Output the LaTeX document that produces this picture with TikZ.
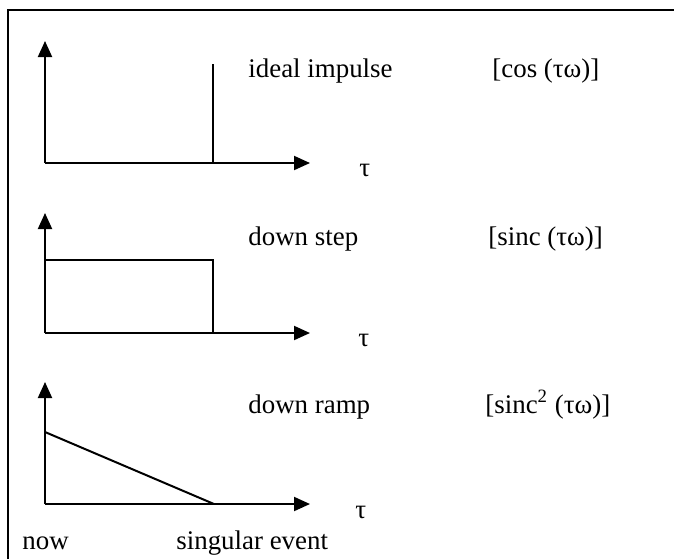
\documentclass[tikz,border=0pt]{standalone}
\usepackage{fontspec}
\setmainfont{Liberation Serif}
\usetikzlibrary{arrows.meta}
\begin{document}
\begin{tikzpicture}[x=0.5pt,y=-0.5pt,
  axis/.style={line width=1pt,-{Triangle[length=8pt,width=7pt]}},
  curve/.style={line width=1pt},
  lbl/.style={anchor=base west,inner sep=0pt,font=\fontsize{13.45pt}{16pt}\selectfont},
  frame/.style={line width=1pt}]
\useasboundingbox (0,0) rectangle (674,559);
% open frame: top and left edges only
\draw[frame] (8,559) -- (8,10) -- (674,10);

% panel 1: ideal impulse
\coordinate (o1) at (45,163);
\coordinate (y1) at (45,41);
\coordinate (x1) at (310,163);
\coordinate (i1) at (213,163);
\coordinate (i1top) at (213,64);
\draw[axis] (o1) -- (y1);
\draw[axis] (o1) -- (x1);
\draw[curve] (i1) -- (i1top);
\node[lbl] (n1) at (248,77) {ideal impulse};
\node[lbl] (f1) at (492,77) {[cos (τω)]};
\node[lbl] (t1) at (359,176) {τ};

% panel 2: down step
\coordinate (o2) at (45,333);
\coordinate (y2) at (45,213);
\coordinate (x2) at (310,333);
\coordinate (s2a) at (45,260);
\coordinate (s2b) at (213,260);
\coordinate (s2c) at (213,333);
\draw[axis] (o2) -- (y2);
\draw[axis] (o2) -- (x2);
\draw[curve] (s2a) -- (s2b) -- (s2c);
\node[lbl] (n2) at (248,245) {down step};
\node[lbl] (f2) at (488,245) {[sinc (τω)]};
\node[lbl] (t2) at (358,346) {τ};

% panel 3: down ramp
\coordinate (o3) at (45,504);
\coordinate (y3) at (45,382);
\coordinate (x3) at (310,504);
\coordinate (r3a) at (45,432);
\coordinate (r3b) at (214,504);
\draw[axis] (o3) -- (y3);
\draw[axis] (o3) -- (x3);
\draw[curve] (r3a) -- (r3b);
\node[lbl] (n3) at (248,413) {down ramp};
\node[lbl] (f3) at (485,413) {[sinc\textsuperscript{2} (τω)]};
\node[lbl] (t3) at (355,518) {τ};

\node[lbl] (now) at (22,549) {now};
\node[lbl] (ev) at (176,549) {singular event};
\end{tikzpicture}
\end{document}
